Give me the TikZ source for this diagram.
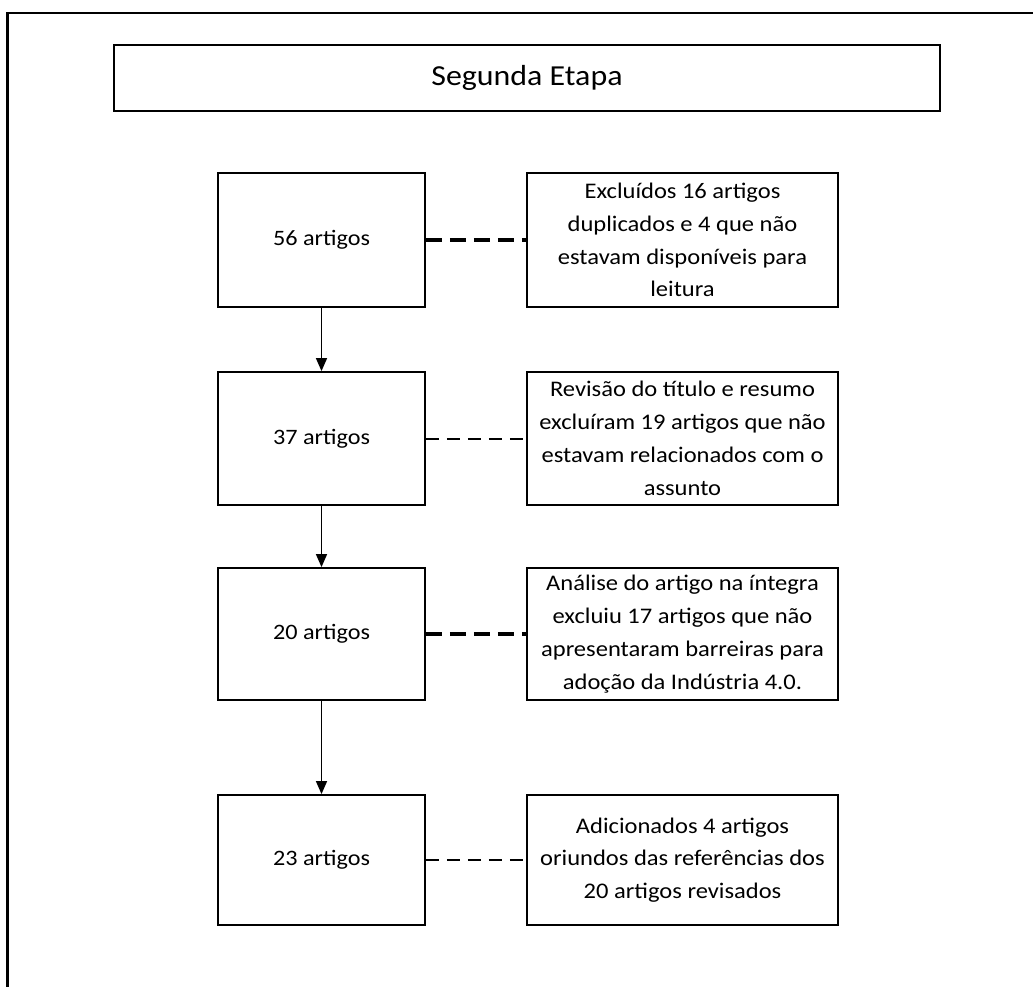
\documentclass[tikz,border=0pt]{standalone}
\usepackage{fontspec}
\setmainfont{Carlito}[FakeStretch=1.1]
\usetikzlibrary{arrows.meta}
\begin{document}
\begin{tikzpicture}[x=1pt,y=-1pt,
  titlebox/.style={draw, line width=1.1pt, minimum width=826pt, minimum height=66pt, inner sep=0pt, font=\fontsize{29}{33}\selectfont},
  leftbox/.style={draw, line width=1.8pt, minimum width=207pt, inner sep=0pt, font=\fontsize{22}{26}\selectfont},
  rightbox/.style={draw, line width=1.4pt, minimum width=311pt, inner sep=0pt, align=center, font=\fontsize{22.3}{32.8}\selectfont},
  flow/.style={-{Triangle[width=11pt,length=13pt]}, line width=1.4pt},
  thicklink/.style={line width=3.6pt, dash pattern=on 16pt off 8pt},
  thinlink/.style={line width=2pt, dash pattern=on 13pt off 8pt}]
\useasboundingbox (0,0) rectangle (1033,987);
\draw[line width=2.6pt] (1033,13) -- (7.5,13) -- (7.5,987);
\node[titlebox] (title) at (527,78) {Segunda Etapa};
\node[leftbox, minimum height=134pt] (a1) at (321.5,240) {56 artigos};
\node[leftbox, minimum height=133pt] (a2) at (321.5,438.5) {37 artigos};
\node[leftbox, minimum height=132pt] (a3) at (321.5,634) {20 artigos};
\node[leftbox, minimum height=130pt] (a4) at (321.5,860) {23 artigos};
\node[rightbox, minimum height=134pt] (b1) at (682.5,240) {Excluídos 16 artigos\\duplicados e 4 que não\\estavam disponíveis para\\leitura};
\node[rightbox, minimum height=133pt] (b2) at (682.5,438.5) {Revisão do título e resumo\\excluíram 19 artigos que não\\estavam relacionados com o\\assunto};
\node[rightbox, minimum height=132pt] (b3) at (682.5,634) {Análise do artigo na íntegra\\excluiu 17 artigos que não\\apresentaram barreiras para\\adoção da Indústria 4.0.};
\node[rightbox, minimum height=130pt] (b4) at (682.5,860) {Adicionados 4 artigos\\oriundos das referências dos\\20 artigos revisados};
\draw[flow] (a1) -- (a2);
\draw[flow] (a2) -- (a3);
\draw[flow] (a3) -- (a4);
\draw[thicklink] (a1) -- (b1);
\draw[thinlink] (a2) -- (b2);
\draw[thicklink] (a3) -- (b3);
\draw[thinlink] (a4) -- (b4);
\end{tikzpicture}
\end{document}
